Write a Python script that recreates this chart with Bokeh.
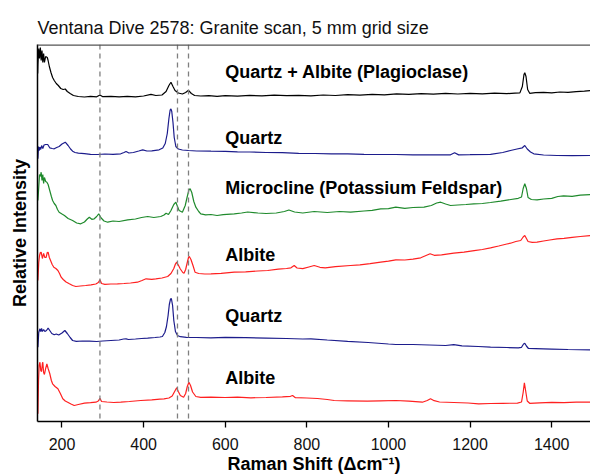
from bokeh.plotting import figure
from bokeh.models import Range1d, Span, Label, FixedTicker
from bokeh.embed import file_html
from bokeh.resources import INLINE

# ---- data: Raman shift (cm^-1) and stacked relative intensity ----
qa_x = [140.5, 141, 143, 145, 147, 149, 151, 153, 155, 157, 160, 164, 166, 169, 173, 177, 181, 186, 191, 197,
        203, 208, 213, 220, 228, 240, 255, 270, 285, 293, 300, 320, 340, 360, 380, 400, 418, 430, 445, 455,
        462, 467, 472, 477, 485, 495, 503, 510, 517, 525, 540, 560, 580, 600, 630, 660, 690, 720, 750, 780,
        810, 840, 870, 900, 930, 960, 990, 1020, 1050, 1080, 1110, 1140, 1170, 1200, 1230, 1260, 1290, 1310,
        1322, 1328, 1332, 1334, 1337, 1341, 1346, 1360, 1380, 1400, 1420, 1440, 1460, 1480, 1495]
qa_y = [348, 357, 373, 363, 374, 361, 371, 359, 368, 359, 365, 364, 361, 355, 349, 344, 341, 338, 336, 333,
        332, 332.5, 330, 328, 326, 325, 324.5, 325.2, 324.7, 326.5, 324.8, 325.1, 324.6, 325.2, 324.7, 325.5, 327.2, 326, 326.5, 330,
        336, 339.3, 335, 331, 328.5, 327.5, 329, 331.2, 328, 326, 325.5, 325.8, 325.2, 325.9, 325.4, 326.1, 325.6, 326.4, 325.8, 326.2,
        325.7, 326.5, 326, 326.8, 326.3, 327.1, 326.6, 327.6, 327.1, 327.8, 327.4, 328.2, 327.5, 328.1, 327.7, 328.3, 327.8, 328.4,
        328.6, 335, 347, 348.7, 345, 332, 328.2, 328.8, 329.2, 328.7, 329.5, 329.1, 329.9, 330.4, 331]

q1_x = [141, 142.5, 144, 146, 148, 150, 153, 156, 160, 165, 170, 176, 181, 187, 193, 200, 208, 215, 221, 226,
        232, 240, 255, 270, 287, 305, 325, 344, 352, 357, 364, 375, 388, 398, 408, 420, 438, 447, 453, 458,
        462, 465, 467, 469, 472, 475, 479, 485, 495, 510, 530, 565, 600, 630, 660, 700, 740, 780, 820, 860,
        900, 940, 980, 1018, 1060, 1100, 1140, 1152, 1162, 1172, 1200, 1250, 1280, 1299, 1315, 1328, 1334, 1340,
        1348, 1356, 1380, 1413, 1450, 1495]
q1_y = [262.7, 275, 271, 274.3, 272, 276, 273, 276.5, 277, 277, 273.7, 273, 272.7, 274, 275, 277.5, 279.3, 276, 272.5, 270.3,
        269, 268.3, 267.8, 267.2, 267, 267.5, 267.2, 267.7, 269, 270, 268.5, 269, 270.5, 271.7, 270.5, 270.7, 271.7, 273.5, 278, 288,
        303, 311.5, 312.7, 310, 299, 284, 275, 272.5, 271.5, 271, 270.5, 270.3, 270.2, 269.7, 269.5, 269, 268.8, 268.2, 268, 267.6,
        267.6, 267.2, 267, 267, 266.7, 266.6, 266.7, 266.7, 268.7, 266.6, 266.8, 267.2, 269, 271, 272.5, 273.7, 276, 272.5,
        269.5, 267.7, 266.5, 266, 265.8, 266]

mc_x = [141, 143, 145, 147, 149, 151, 153, 155, 157, 160, 163, 166, 170, 174, 177, 181, 185, 189, 193, 200,
        206, 215, 226, 236, 246, 255, 262, 267, 273, 279, 285, 290, 296, 303, 312, 325, 340, 361, 380, 395,
        410, 425, 442, 450, 455, 461, 467, 474, 479, 483, 487, 495, 502, 507, 511, 514, 518, 523, 528, 535,
        540, 552, 565, 580, 595, 622, 640, 655, 680, 700, 725, 745, 756, 770, 790, 818, 850, 880, 907, 940,
        960, 981, 1000, 1018, 1040, 1060, 1087, 1105, 1118, 1128, 1140, 1152, 1170, 1190, 1209, 1230, 1250, 1275,
        1300, 1318, 1326, 1330, 1334, 1338, 1342, 1350, 1364, 1380, 1400, 1415, 1429, 1450, 1470, 1495]
mc_y = [221, 234, 247, 245, 249.3, 241, 247, 238, 244, 240, 239.3, 237, 231, 225, 221, 218, 216, 212, 209.3, 207.5,
        206, 203, 201, 198.5, 197.7, 199.5, 202.5, 204.3, 202.2, 202.7, 205, 207.7, 203.5, 200.5, 199.3, 200.5, 200, 201.7, 202.5, 204,
        205, 204, 205, 206.5, 208.3, 207, 211, 217, 219.3, 215, 211, 209.3, 216, 225, 231.5, 232.7, 229, 220, 214.3, 210,
        207.7, 206.7, 207, 206, 206.8, 207.7, 208.5, 209.5, 208.5, 208, 208.5, 210, 211.5, 209.5, 208.5, 210, 209, 210, 209.3, 210.5,
        211.2, 212.7, 212.8, 214.3, 213.2, 214, 214.3, 216, 218.5, 219.3, 217.5, 216, 216.5, 217, 217.7, 218, 219, 220.3,
        222, 223.2, 224.5, 233, 237.7, 233, 224, 222, 221.7, 222.5, 223.2, 225, 225.7, 225.2, 226.4, 227]

ab1_x = [141, 143, 145, 147, 149, 152, 155, 158, 161, 164, 166, 169, 172, 176, 180, 185, 190, 194, 198, 203,
         210, 218, 226, 234, 245, 258, 271, 283, 289, 293, 297, 305, 320, 336, 352, 368, 385, 396, 406, 420,
         430, 445, 459, 467, 474, 478, 481, 485, 490, 496, 499, 503, 507, 510, 512, 516, 521, 526, 535, 550,
         565, 590, 622, 650, 680, 704, 730, 750, 761, 769, 776, 790, 805, 818, 832, 845, 870, 907, 930, 955,
         981, 1000, 1018, 1040, 1060, 1079, 1092, 1102, 1112, 1130, 1160, 1185, 1210, 1230, 1250, 1270, 1290, 1299,
         1312, 1324, 1330, 1334, 1338, 1342, 1352, 1364, 1380, 1395, 1413, 1430, 1450, 1470, 1495]
ab1_y = [141, 159, 166, 169, 169.3, 163, 168, 164, 164, 169, 169.3, 164, 161, 157, 154.3, 153, 151, 148, 144.3, 142,
         139.5, 137.7, 136, 135, 135.5, 136, 136.7, 137.5, 139, 141.7, 138, 137.2, 137.5, 137.7, 138, 138.5, 139.3, 141, 142.7, 142.2,
         142.7, 143.5, 145, 148, 153, 157.5, 159.3, 156.5, 152.5, 149, 148.3, 152, 159, 164, 165, 162, 156, 149.3, 148, 147.5,
         147.7, 148.2, 149.3, 149.7, 150.5, 151, 152.3, 153, 153.7, 156, 153.5, 152.8, 154.5, 156, 154.2, 153.7, 154.8, 156, 156.7, 157.8,
         159.3, 160.3, 161.7, 161.5, 162.4, 163.7, 166, 167.7, 166.2, 166.7, 168.3, 169.3, 170.8, 172, 173.7, 175.5, 177.5, 178.3,
         180, 181, 184.5, 186, 183, 180, 179.2, 179.3, 180.5, 181.5, 182.7, 183.2, 184.2, 185, 186]

q2_x = [141, 143, 146, 148, 150, 152, 155, 158, 162, 166, 170, 175, 181, 186, 192, 200, 207, 213, 220, 226,
        235, 250, 267, 285, 300, 320, 340, 351, 357, 363, 380, 395, 410, 428, 440, 446, 452, 456, 460, 463,
        466, 468, 471, 474, 478, 483, 490, 505, 530, 565, 600, 650, 700, 750, 790, 810, 850, 900, 950, 1000,
        1018, 1060, 1100, 1140, 1160, 1180, 1220, 1250, 1290, 1318, 1326, 1331, 1334, 1338, 1343, 1360, 1400, 1440,
        1495]
q2_y = [74.3, 89, 92.7, 90, 93, 90, 92, 90, 91, 93.3, 91, 88, 86.7, 87.5, 86.5, 88.5, 91, 88, 84, 81,
        80.2, 80.5, 80.3, 80, 80.5, 81, 81.5, 82.5, 82.7, 82, 82.5, 83, 83.3, 84, 84.5, 85, 89, 95, 106, 117,
        122.5, 123, 116, 101, 90, 86, 84.8, 84.2, 84, 83.7, 84.2, 83.8, 83.4, 83, 82.5, 82.7, 81.5, 80.2, 79, 77.5,
        77, 77, 76.5, 76, 76.8, 75.7, 75, 74.3, 74, 73.7, 74.2, 77.5, 78.2, 75.5, 73, 72.8, 72.4, 72,
        71.7]

ab2_x = [141, 142.5, 144, 146, 148, 150, 152, 153, 155, 157, 160, 163, 166, 170, 174, 177, 183, 190, 196, 202,
         208, 214, 222, 230, 240, 255, 270, 283, 289, 293, 297, 310, 327, 344, 365, 393, 420, 440, 450, 462,
         470, 476, 481, 485, 490, 498, 503, 507, 511, 515, 520, 528, 540, 565, 600, 630, 663, 700, 740, 760,
         765, 772, 800, 826, 850, 867, 900, 948, 980, 1018, 1050, 1083, 1095, 1103, 1112, 1125, 1160, 1195, 1221,
         1250, 1280, 1316, 1326, 1330, 1333, 1336, 1340, 1346, 1370, 1400, 1430, 1460, 1495]
ab2_y = [7.7, 41, 56, 59.3, 51, 50, 58, 59.3, 49, 47, 53, 57.7, 53, 48, 41, 37.7, 35, 32.7, 28, 22.7,
         20.5, 19.3, 17.5, 16, 17, 18.3, 18.8, 19.3, 20.5, 23.3, 20, 19.5, 19, 19.3, 20, 21, 21.7, 22.4, 22.7, 23.5,
         25.5, 30, 33.7, 30, 26, 24.3, 28, 35, 39.3, 36, 29.5, 25, 24.2, 24.3, 24, 24.4, 23.7, 24, 24.7, 25.2,
         26, 23.8, 23.5, 23, 22, 21, 20.7, 20.3, 20.7, 21, 20.4, 19.3, 21, 22.7, 20.8, 19.5, 19, 18.5, 17.7,
         18, 18.2, 18.3, 19.5, 29, 38.7, 31, 20.5, 18.2, 18.7, 19.2, 18.8, 19.3, 19.3]

series = [
    (qa_x, qa_y, "#000000"),
    (q1_x, q1_y, "#1c1c8c"),
    (mc_x, mc_y, "#1f8a2c"),
    (ab1_x, ab1_y, "#ff2020"),
    (q2_x, q2_y, "#1c1c8c"),
    (ab2_x, ab2_y, "#ff2020"),
]

labels = ["Quartz + Albite (Plagioclase)", "Quartz", "Microcline (Potassium Feldspar)",
          "Albite", "Quartz", "Albite"]
label_y = [350, 284, 234, 167, 106, 44]
label_x = 600

peak_lines = [293, 483, 510]
x_ticks = [200, 400, 600, 800, 1000, 1200, 1400]

FONT = "Liberation Sans"

p = figure(width=590, height=476, output_backend="svg", toolbar_location=None,
           x_range=Range1d(140, 1495), y_range=Range1d(0, 377),
           min_border_left=37, min_border_right=0, min_border_top=44, min_border_bottom=55,
           title="Ventana Dive 2578: Granite scan, 5 mm grid size")
p.title.text_font = FONT
p.title.text_font_size = "18px"
p.title.text_font_style = "normal"
p.title.text_color = "#111111"
p.title.align = "left"
p.title.standoff = 14
p.outline_line_color = None
p.grid.visible = False

for xs, ys, c in series:
    p.line(xs, ys, line_color=c, line_width=1.2)

for loc in peak_lines:
    p.add_layout(Span(location=loc, dimension="height", line_color="#7f7f7f",
                      line_dash="5 4", line_width=1.3))
p.add_layout(Span(location=377, dimension="width", line_color="#555555", line_width=2.5))

for t, yy in zip(labels, label_y):
    p.add_layout(Label(x=label_x, y=yy, text=t, text_font=FONT, text_font_size="18px",
                       text_font_style="bold", text_color="#000000",
                       text_baseline="middle", text_align="left"))

xa = p.xaxis[0]
xa.ticker = FixedTicker(ticks=x_ticks)
xa.minor_tick_line_color = None
xa.major_tick_in = 0
xa.major_tick_out = 6
xa.major_tick_line_width = 1.3
xa.axis_line_width = 1.5
xa.axis_line_color = "black"
xa.major_label_text_font = FONT
xa.major_label_text_font_size = "16px"
xa.major_label_text_color = "#111111"
xa.major_label_standoff = 10
xa.axis_label = "Raman Shift (\u0394cm\u207b\u00b9)"
xa.axis_label_text_font = FONT
xa.axis_label_text_font_size = "18px"
xa.axis_label_text_font_style = "bold"
xa.axis_label_text_color = "#000000"
xa.axis_label_standoff = 1

ya = p.yaxis[0]
ya.ticker = FixedTicker(ticks=[])
ya.major_tick_out = 0
ya.major_tick_in = 0
ya.minor_tick_line_color = None
ya.axis_line_width = 1.5
ya.axis_line_color = "black"
ya.axis_label = "Relative Intensity"
ya.axis_label_text_font = FONT
ya.axis_label_text_font_size = "18px"
ya.axis_label_text_font_style = "bold"
ya.axis_label_text_color = "#000000"
ya.axis_label_standoff = 8

open("out.html", "w").write(file_html(p, INLINE))
